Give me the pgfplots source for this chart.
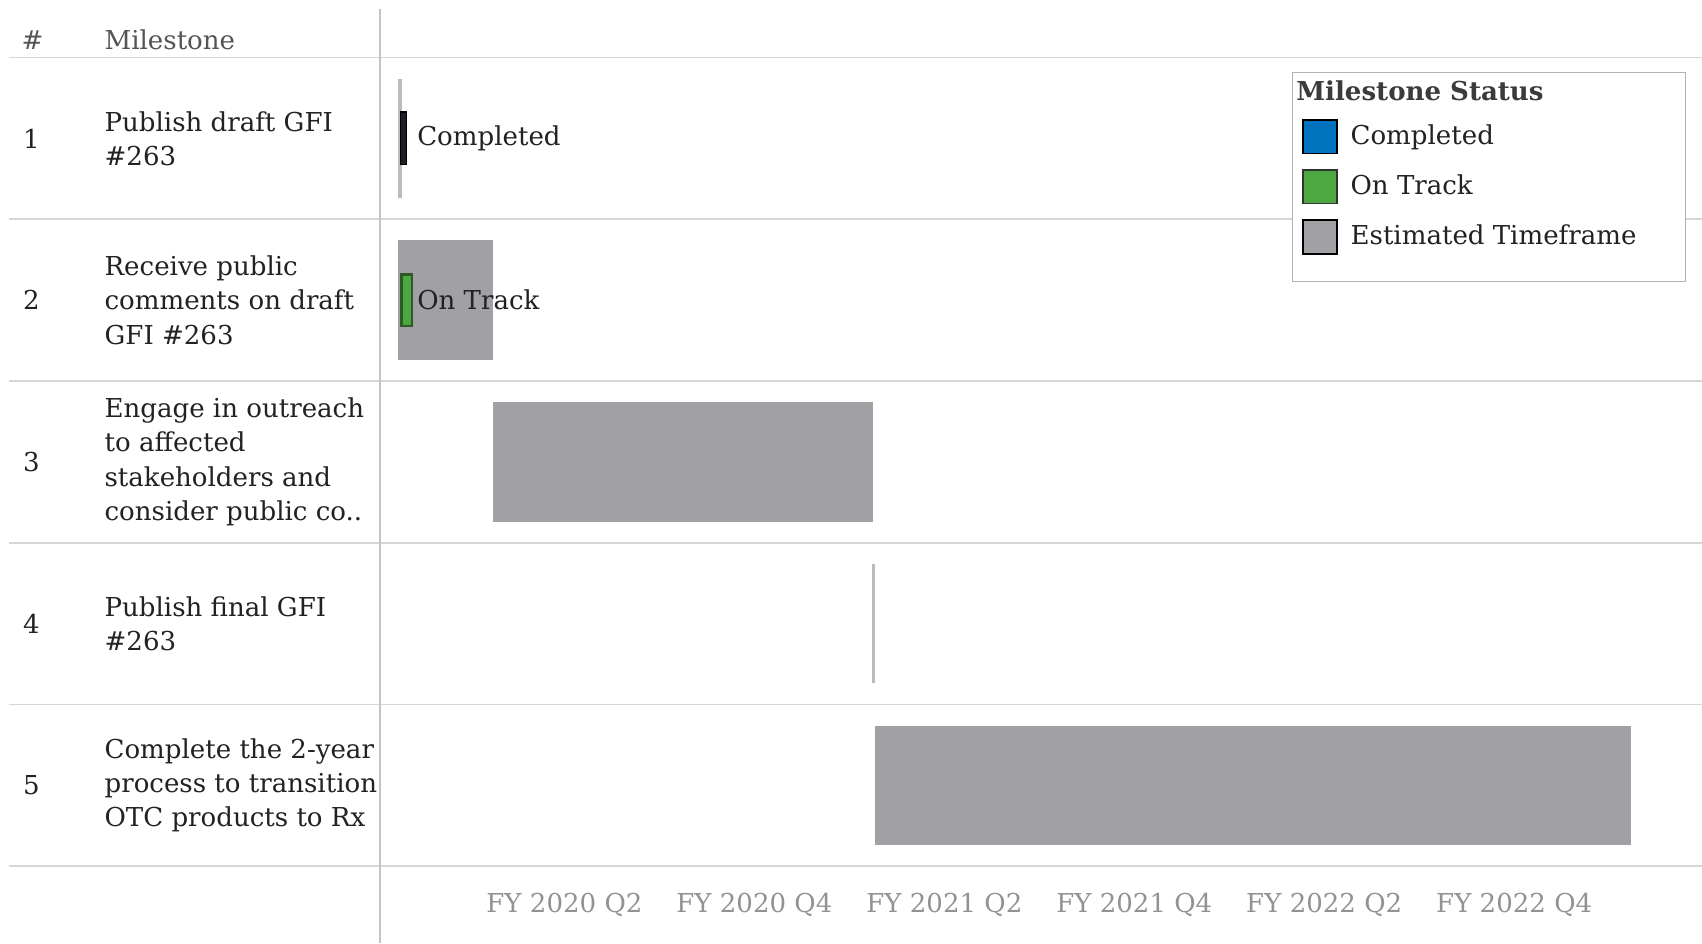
\documentclass[border=0pt]{standalone}
\usepackage{fontspec}
\setmainfont{DejaVu Serif}
\usepackage{pgfplots}
\pgfplotsset{compat=1.18}
\definecolor{estgray}{HTML}{A1A1A5}
\definecolor{thingray}{HTML}{BBBBBF}
\definecolor{gridc}{HTML}{D6D6D6}
\definecolor{divc}{HTML}{C4C4C4}
\definecolor{txt}{HTML}{222222}
\definecolor{hdr}{HTML}{555555}
\definecolor{tickc}{HTML}{929292}
\definecolor{compblue}{HTML}{0072BE}
\definecolor{compdark}{HTML}{1E1E26}
\definecolor{ontrack}{HTML}{4CA840}
\definecolor{ontrackdark}{HTML}{2E5A28}
\definecolor{legborder}{HTML}{B4B4AA}
\begin{document}
\fontsize{12}{15.75}\selectfont
\begin{tikzpicture}
\begin{axis}[
  scale only axis,
  width=609pt, height=372.5pt,
  xmin=0.057, xmax=13.977,
  ymin=0.5, ymax=5.5,
  y dir=reverse,
  clip=false,
  axis line style={draw=none},
  ytick=\empty,
  xtick={2,4,6,8,10,12},
  xticklabels={FY 2020 Q2, FY 2020 Q4, FY 2021 Q2, FY 2021 Q4, FY 2022 Q2, FY 2022 Q4},
  major tick length=0pt,
  xticklabel style={anchor=center, yshift=-18pt, text=tickc},
  legend cell align=left,
  legend style={at={(0.9877,0.9826)}, anchor=north east, draw=legborder, fill=white,
    inner xsep=4.5pt, inner ysep=4pt, row sep=6.75pt,
    nodes={inner sep=0pt, text=txt}, column sep=6pt},
  legend image code/.code={\draw[#1] (0pt,-7.75pt) rectangle (15.5pt,7.75pt);},
]
% row separators and divider
\pgfplotsinvokeforeach{0.5,1.5,2.5,3.5,4.5,5.5}{
  \draw[gridc, line width=0.75pt] ([xshift=-171pt]axis cs:0.057,#1) -- (axis cs:13.977,#1);
}
\draw[divc, line width=0.75pt] ([yshift=22.5pt]axis cs:0.057,0.5) -- ([yshift=-35.5pt]axis cs:0.057,5.5);

% Estimated timeframe bars (start, end) at row
\addplot[thingray, line width=54.5pt, forget plot] coordinates {(0.245,1) (0.286,1)};
\addplot[estgray, line width=55pt, forget plot] coordinates {(0.245,2) (1.245,2)};
\addplot[estgray, line width=55pt, forget plot] coordinates {(1.245,3) (5.245,3)};
\addplot[thingray, line width=55pt, forget plot] coordinates {(5.235,4) (5.270,4)};
\addplot[estgray, line width=55pt, forget plot] coordinates {(5.265,5) (13.225,5)};

% Status bars
\addplot[fill=compdark, draw=black, line width=0.5pt, forget plot] coordinates {(0.272,0.837) (0.340,0.837) (0.340,1.163) (0.272,1.163)} -- cycle;
\addplot[fill=ontrack, draw=ontrackdark, line width=1pt, forget plot] coordinates {(0.285,1.842) (0.392,1.842) (0.392,2.158) (0.285,2.158)} -- cycle;

\node[anchor=west, inner sep=0pt, text=txt] at (axis cs:0.446,1) {Completed};
\node[anchor=west, inner sep=0pt, text=txt] at (axis cs:0.446,2) {On Track};

% Table header
\node[anchor=center, inner sep=0pt, text=hdr] at ([xshift=-160pt,yshift=8pt]axis cs:0.057,0.5) {\#};
\node[anchor=west, inner sep=0pt, text=hdr] at ([xshift=-127pt,yshift=8pt]axis cs:0.057,0.5) {Milestone};

% Row numbers
\pgfplotsinvokeforeach{1,2,3,4,5}{
  \node[anchor=center, inner sep=0pt, text=txt] at ([xshift=-160.5pt]axis cs:0.057,#1) {#1};
}
% Row texts
\node[anchor=west, align=left, inner sep=0pt, text=txt] at ([xshift=-127pt]axis cs:0.057,1) {Publish draft GFI\\\#263};
\node[anchor=west, align=left, inner sep=0pt, text=txt] at ([xshift=-127pt]axis cs:0.057,2) {Receive public\\comments on draft\\GFI \#263};
\node[anchor=west, align=left, inner sep=0pt, text=txt] at ([xshift=-127pt]axis cs:0.057,3) {Engage in outreach\\to affected\\stakeholders and\\consider public co..};
\node[anchor=west, align=left, inner sep=0pt, text=txt] at ([xshift=-127pt]axis cs:0.057,4) {Publish final GFI\\\#263};
\node[anchor=west, align=left, inner sep=0pt, text=txt] at ([xshift=-127pt]axis cs:0.057,5) {Complete the 2-year\\process to transition\\OTC products to Rx};

% Legend
\addlegendimage{empty legend}
\addlegendentry{\hspace*{-25pt}\textcolor{hdr!70!black}{\textbf{Milestone Status}}}
\addlegendimage{fill=compblue, draw=black, line width=0.8pt}
\addlegendentry{Completed}
\addlegendimage{fill=ontrack, draw=black!80, line width=0.8pt}
\addlegendentry{On Track}
\addlegendimage{fill=estgray, draw=black, line width=0.8pt}
\addlegendentry{Estimated Timeframe\hspace*{18pt}}
\addlegendimage{empty legend}
\addlegendentry{}
\end{axis}
\pgfresetboundingbox
\path ([xshift=-175pt,yshift=-35.5pt]current axis.south west) rectangle ([yshift=26.5pt]current axis.north east);
\end{tikzpicture}
\end{document}
